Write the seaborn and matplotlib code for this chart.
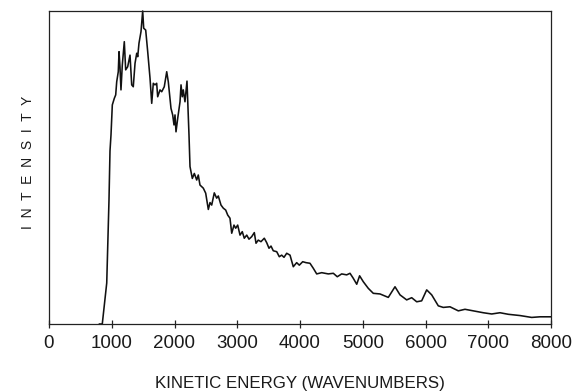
import matplotlib
matplotlib.use("Agg")
import matplotlib.pyplot as plt
import seaborn as sns
import pandas as pd

# Photoelectron kinetic-energy distribution (intensity in arbitrary units)
wavenumber = [
    800, 849, 920, 956, 972, 988, 1009, 1041, 1063, 1079, 1104, 1116, 1131,
    1147, 1168, 1200, 1222, 1254, 1291, 1318, 1343, 1371, 1398, 1414, 1434,
    1466, 1493, 1509, 1541, 1573, 1610, 1637, 1662, 1689, 1716, 1732, 1769,
    1796, 1837, 1876, 1901, 1944, 1971, 1992, 2008, 2024, 2051, 2088, 2104,
    2124, 2140, 2167, 2199, 2220, 2231, 2247, 2284, 2316, 2354, 2379, 2406,
    2459, 2497, 2539, 2566, 2593, 2634, 2672, 2698, 2741, 2778, 2816, 2848,
    2884, 2912, 2948, 2975, 3007, 3044, 3080, 3112, 3151, 3187, 3230, 3272,
    3299, 3335, 3378, 3431, 3469, 3506, 3538, 3574, 3629, 3670, 3708, 3745,
    3788, 3841, 3893, 3947, 3989, 4043, 4096, 4159, 4212, 4266, 4346, 4451,
    4531, 4594, 4664, 4744, 4797, 4849, 4904, 4950, 5009, 5088, 5168, 5275,
    5407, 5514, 5594, 5700, 5780, 5860, 5939, 6019, 6099, 6204, 6283, 6390,
    6523, 6629, 6762, 6921, 7055, 7187, 7320, 7506, 7692, 7825, 8000,
]
intensity = [
    0, 0, 13.1, 39.6, 55.3, 60.4, 70.0, 72.1, 73.2, 77.4, 80.6, 87.0, 82.2,
    74.8, 82.7, 90.2, 81.2, 82.2, 85.9, 76.4, 75.8, 83.3, 86.5, 85.4, 89.7,
    93.4, 100.0, 94.5, 93.9, 87.0, 78.5, 70.5, 76.9, 76.4, 76.9, 72.6, 74.8,
    74.2, 75.8, 80.6, 77.4, 68.9, 66.8, 63.6, 66.8, 61.4, 65.7, 71.0, 76.4,
    72.6, 74.8, 71.0, 77.6, 66.8, 60.4, 50.3, 46.5, 48.1, 46.0, 47.6, 44.4,
    43.4, 41.8, 36.6, 38.8, 38.0, 41.9, 40.2, 40.9, 38.0, 37.0, 36.4, 34.8,
    33.8, 29.0, 31.6, 30.6, 31.6, 28.4, 29.5, 27.4, 28.4, 27.1, 27.9, 29.2,
    25.8, 26.8, 26.3, 27.4, 26.0, 24.2, 24.9, 23.4, 23.1, 21.5, 22.0, 21.3,
    22.6, 22.0, 18.3, 19.6, 18.8, 19.9, 19.6, 19.4, 17.8, 16.0, 16.4, 16.0,
    16.2, 15.1, 16.0, 15.7, 16.2, 14.6, 12.7, 15.4, 13.5, 11.4, 9.8, 9.6,
    8.5, 11.9, 9.3, 7.7, 8.4, 7.1, 7.4, 10.9, 9.3, 5.8, 5.3, 5.5,
    4.2, 4.7, 4.2, 3.6, 3.2, 3.6, 3.1, 2.7, 2.1, 2.3, 2.3,
]
x_ticks = [0, 1000, 2000, 3000, 4000, 5000, 6000, 7000, 8000]
x_label = "KINETIC ENERGY (WAVENUMBERS)"
y_label = "I  N  T  E  N  S  I  T  Y"

sns.set_theme(style="ticks")
plt.rcParams["font.family"] = ["Liberation Sans", "DejaVu Sans"]

df = pd.DataFrame({"wavenumber": wavenumber, "intensity": intensity})

fig = plt.figure(figsize=(5.78, 3.91), dpi=100)
ax = fig.add_axes([49 / 578, 1 - 324 / 391, (551 - 49) / 578, (324 - 11) / 391])

sns.lineplot(data=df, x="wavenumber", y="intensity", ax=ax, color="#111111",
             linewidth=1.15, estimator=None, sort=False, clip_on=False)

ax.set_xlim(0, 8000)
ax.set_ylim(0, 100)
ax.set_xticks(x_ticks)
ax.set_xticklabels([str(t) for t in x_ticks])
ax.set_yticks([])

for side in ["left", "right", "top", "bottom"]:
    ax.spines[side].set_visible(True)
    ax.spines[side].set_color("#222222")
    ax.spines[side].set_linewidth(0.9)

ax.tick_params(axis="x", direction="inout", length=6, width=0.9,
               color="#222222", labelsize=13.5, labelcolor="#1a1a1a", pad=5)

ax.set_xlabel(x_label, fontsize=12.2, color="#1a1a1a", labelpad=17)
ax.set_ylabel(y_label, fontsize=10, color="#1a1a1a")
ax.yaxis.set_label_coords(-0.028, 0.515)

fig.savefig("out.png", dpi=100, facecolor="white")
